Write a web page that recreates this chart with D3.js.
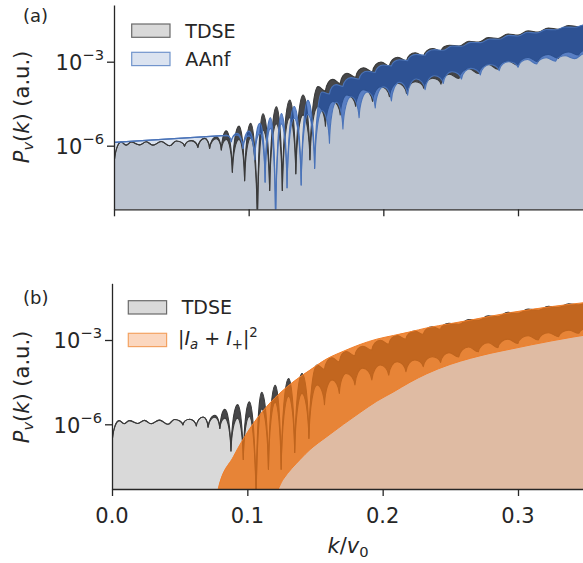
<!DOCTYPE html>
<html>
<head>
<meta charset="utf-8">
<script src="https://cdn.jsdelivr.net/npm/d3@7"></script>
<style>
  html, body { margin: 0; padding: 0; background: #fff; }
  svg { display: block; font-family: "DejaVu Sans", sans-serif; }
</style>
</head>
<body>
<svg id="chart" width="583" height="563"></svg>
<script>
// ---------------------------------------------------------------
// Photoelectron spectra P_v(k), values stored as log10(P).
// Each oscillating spectrum is described by its cusps (minima of
// the slow modulation) and its peaks; "Hi"/"Lo" are the upper and
// lower edges of the band swept by the fast oscillation.
// ---------------------------------------------------------------

const xTicks = [0, 0.1, 0.2, 0.3];
const xTickLabels = ["0.0", "0.1", "0.2", "0.3"];
const yTickExps = [-3, -6];

// TDSE (same spectrum in both panels)
const tdseCuspK  = [0, 0.0090, 0.0190, 0.0289, 0.0413, 0.0524, 0.0623, 0.0710, 0.0797, 0.0879, 0.0970, 0.1065, 0.1156, 0.1250, 0.1350, 0.1455, 0.1570, 0.1680, 0.1795, 0.1920, 0.2045, 0.2172, 0.2300, 0.2428, 0.2562, 0.2707, 0.2852, 0.3000, 0.3150, 0.3300, 0.3450, 0.3600];
const tdseCuspHi = [-6.7, -5.98, -5.97, -5.98, -6.0, -6.02, -6.06, -6.1, -6.15, -6.95, -7.25, -8.8, -7.6, -7.6, -7.0, -6.5, -4.05, -3.78, -3.56, -3.36, -3.15, -2.97, -2.80, -2.62, -2.44, -2.30, -2.17, -2.05, -1.94, -1.84, -1.75, -1.68];
const tdseCuspLo = [-6.7, -5.98, -5.97, -5.98, -6.0, -6.02, -6.06, -6.1, -6.15, -6.95, -7.25, -8.8, -7.6, -7.6, -7.0, -6.5, -5.3, -4.9, -4.6, -4.42, -4.25, -4.13, -3.95, -3.8, -3.6, -3.42, -3.27, -3.12, -3.0, -2.88, -2.76, -2.66];
const tdsePeakK  = [0.0053, 0.0128, 0.0240, 0.0350, 0.0462, 0.0574, 0.0673, 0.0760, 0.0834, 0.0928, 0.1015, 0.1106, 0.1206, 0.1305, 0.1404, 0.1515, 0.1626, 0.1730, 0.1853, 0.1983, 0.2107, 0.2237, 0.2366, 0.2490, 0.2635, 0.2780, 0.2925, 0.3075, 0.3225, 0.3375, 0.3525];
const tdsePeakHi = [-5.87, -5.87, -5.86, -5.85, -5.83, -5.82, -5.74, -5.68, -5.47, -5.30, -5.20, -4.86, -4.61, -4.37, -4.19, -3.89, -3.63, -3.41, -3.22, -3.01, -2.84, -2.68, -2.53, -2.41, -2.27, -2.14, -2.01, -1.90, -1.80, -1.71, -1.64];
const tdsePeakLo = [-5.87, -5.87, -5.86, -5.85, -5.83, -5.82, -5.74, -5.75, -5.78, -5.78, -5.72, -5.45, -5.22, -5.0, -4.9, -4.6, -4.42, -4.19, -4.0, -3.89, -3.77, -3.71, -3.59, -3.45, -3.25, -3.10, -2.97, -2.85, -2.74, -2.65, -2.56];

// AAnf: flat part at low k, then oscillating
const aanfLeadK  = [0];
const aanfLeadV  = [-5.88];
const aanfPeakK  = [0.0835, 0.0912, 0.1002, 0.1084, 0.1162, 0.1243, 0.1338, 0.1440, 0.1545, 0.1650, 0.1760, 0.1880, 0.2000, 0.2120, 0.2245, 0.2380, 0.2510, 0.2650, 0.2790, 0.2930, 0.3070, 0.3210, 0.3350, 0.3490];
const aanfPeakHi = [-5.63, -5.56, -5.48, -5.20, -5.00, -4.85, -4.60, -4.38, -4.08, -3.82, -3.57, -3.34, -3.12, -2.93, -2.74, -2.57, -2.44, -2.31, -2.19, -2.06, -1.95, -1.85, -1.76, -1.69];
const aanfPeakLo = [-5.63, -5.62, -5.65, -5.55, -5.38, -5.22, -5.02, -4.88, -4.75, -4.45, -4.25, -4.08, -3.90, -3.74, -3.62, -3.50, -3.36, -3.24, -3.10, -3.00, -2.92, -2.86, -2.79, -2.72];
const aanfCuspK  = [0.0871, 0.0958, 0.1045, 0.1122, 0.1200, 0.1285, 0.1390, 0.1490, 0.1600, 0.1700, 0.1820, 0.1940, 0.2060, 0.2180, 0.2310, 0.2445, 0.2580, 0.2720, 0.2860, 0.3000, 0.3140, 0.3280, 0.3420, 0.3560];
const aanfCuspHi = [-5.86, -6.10, -6.50, -7.30, -8.80, -7.50, -7.40, -6.81, -4.15, -3.88, -3.62, -3.38, -3.15, -2.96, -2.77, -2.59, -2.45, -2.32, -2.20, -2.08, -1.97, -1.86, -1.77, -1.70];
const aanfCuspLo = [-5.86, -6.10, -6.50, -7.30, -8.80, -7.50, -7.40, -6.81, -5.91, -5.40, -5.00, -4.65, -4.40, -4.20, -4.00, -3.78, -3.62, -3.47, -3.32, -3.20, -3.08, -2.98, -2.89, -2.80];

// |I_a + I_+|^2
const ipK  = [0.0772, 0.0786, 0.0897, 0.1020, 0.1143, 0.1266, 0.1390, 0.1463, 0.1584, 0.1710, 0.1833, 0.1956, 0.2079, 0.2203, 0.2326, 0.2498, 0.2650, 0.2800, 0.2950, 0.3100, 0.3250, 0.3400, 0.3600];
const ipHi = [-9.0, -8.28, -7.15, -6.14, -5.37, -4.78, -4.31, -4.07, -3.68, -3.40, -3.16, -2.97, -2.84, -2.71, -2.57, -2.42, -2.29, -2.15, -2.02, -1.91, -1.81, -1.72, -1.61];
const ipLo = [-9.0, -9.0, -9.0, -9.0, -9.0, -7.95, -7.25, -6.90, -6.45, -6.00, -5.58, -5.18, -4.85, -4.50, -4.20, -3.87, -3.65, -3.47, -3.32, -3.17, -3.03, -2.90, -2.75];

// ---------------------------------------------------------------
const svg = d3.select("#chart");
const W = 583;
const ink = "#262626";

const panels = [
  { tag: "(a)", left: 114, at03: 518, top: 5,     bottom: 209.3, e3: 61.7,  e6: 145.7, tagY: 21.7,  labelY: 107, showX: false },
  { tag: "(b)", left: 112, at03: 518, top: 283.3, bottom: 489,   e3: 340,   e6: 424.3, tagY: 304.4, labelY: 387, showX: true }
];

panels.forEach((p, i) => {
  const kMax = (W - p.left) / (p.at03 - p.left) * 0.3;
  p.x = d3.scaleLinear().domain([0, kMax]).range([p.left, W]);
  const perDec = (p.e6 - p.e3) / 3;
  const lo = -6 - (p.bottom - p.e6) / perDec;
  const hi = -3 + (p.e3 - p.top) / perDec;
  p.y = d3.scaleLog().domain([10 ** lo, 10 ** hi]).range([p.bottom, p.top]);
  p.clipId = "clip" + i;
  svg.append("clipPath").attr("id", p.clipId)
    .append("rect").attr("x", p.left).attr("y", p.top)
    .attr("width", W - p.left).attr("height", p.bottom - p.top);
});

function mergeSeries(leadK, leadV, cuspK, cuspHi, cuspLo, peakK, peakHi, peakLo) {
  const pts = [];
  leadK.forEach((k, i) => pts.push({ k, hi: leadV[i], lo: leadV[i], kind: "lead" }));
  cuspK.forEach((k, i) => pts.push({ k, hi: cuspHi[i], lo: cuspLo[i], kind: "cusp" }));
  peakK.forEach((k, i) => pts.push({ k, hi: peakHi[i], lo: peakLo[i], kind: "peak" }));
  return pts.sort((a, b) => a.k - b.k);
}

// Trace one edge: rounded arches over the peaks, sharp cusps at deep minima,
// gentle waves where the modulation is shallow.
function traceEdge(ctx, pts, key, x, y, start) {
  pts.forEach((q, i) => {
    const qx = x(q.k), qy = y(10 ** q[key]);
    if (i === 0) { start ? ctx.moveTo(qx, qy) : ctx.lineTo(qx, qy); return; }
    const a = pts[i - 1];
    const ax = x(a.k), ay = y(10 ** a[key]);
    const dx = qx - ax, dy = qy - ay;
    if (a.kind === "lead" || q.kind === "lead") ctx.lineTo(qx, qy);
    else if (Math.abs(dy) < 5) ctx.bezierCurveTo(ax + 0.4 * dx, ay, qx - 0.4 * dx, qy, qx, qy);
    else if (a.kind === "cusp") ctx.bezierCurveTo(ax + 0.1 * dx, ay + 0.6 * dy, qx - 0.45 * dx, qy, qx, qy);
    else ctx.bezierCurveTo(ax + 0.45 * dx, ay, qx - 0.1 * dx, qy - 0.6 * dy, qx, qy);
  });
}

function fillPath(pts, p) {
  const c = d3.path();
  traceEdge(c, pts, "hi", p.x, p.y, true);
  c.lineTo(p.x(pts[pts.length - 1].k), p.bottom + 3);
  c.lineTo(p.x(pts[0].k), p.bottom + 3);
  c.closePath();
  return c.toString();
}
function bandPath(pts, p) {
  const c = d3.path();
  traceEdge(c, pts, "hi", p.x, p.y, true);
  traceEdge(c, pts.slice().reverse(), "lo", p.x, p.y, false);
  c.closePath();
  return c.toString();
}
function edgePath(pts, p, key) {
  const c = d3.path();
  traceEdge(c, pts, key, p.x, p.y, true);
  return c.toString();
}

const tdse = mergeSeries([], [], tdseCuspK, tdseCuspHi, tdseCuspLo, tdsePeakK, tdsePeakHi, tdsePeakLo);
const aanf = mergeSeries(aanfLeadK, aanfLeadV, aanfCuspK, aanfCuspHi, aanfCuspLo, aanfPeakK, aanfPeakHi, aanfPeakLo);
const ipData = ipK.map((k, i) => ({ k, hi: ipHi[i], lo: ipLo[i] }));

const style = {
  tdse: { fill: "rgba(64,64,64,0.2)", band: "rgba(50,50,52,0.88)", line: "#3a3a3a" },
  aanf: { fill: "rgba(76,114,176,0.2)", band: "rgba(36,90,189,0.65)", line: "#4a73b8" },
  ip:   { fill: "rgba(240,120,40,0.3)", band: "rgba(234,114,20,0.755)", line: "#ef7f2c" }
};

function drawOscillating(g, pts, p, st, layer) {
  if (layer === "fill") {
    g.append("path").attr("d", fillPath(pts, p)).attr("fill", st.fill);
  } else {
    g.append("path").attr("d", bandPath(pts, p)).attr("fill", st.band);
    ["hi", "lo"].forEach(key => g.append("path").attr("d", edgePath(pts, p, key))
      .attr("fill", "none").attr("stroke", st.line).attr("stroke-width", 1.1).attr("stroke-linejoin", "round"));
  }
}

function drawSmooth(g, data, p, st, layer) {
  const xk = d => p.x(d.k);
  if (layer === "fill") {
    g.append("path").attr("d", d3.area().curve(d3.curveMonotoneX).x(xk)
      .y0(p.bottom + 3).y1(d => p.y(10 ** d.hi))(data)).attr("fill", st.fill);
  } else {
    g.append("path").attr("d", d3.area().curve(d3.curveMonotoneX).x(xk)
      .y0(d => p.y(10 ** d.lo)).y1(d => p.y(10 ** d.hi))(data)).attr("fill", st.band);
    ["hi", "lo"].forEach(key => g.append("path")
      .attr("d", d3.line().curve(d3.curveMonotoneX).x(xk).y(d => p.y(10 ** d[key]))(data))
      .attr("fill", "none").attr("stroke", st.line).attr("stroke-width", 1));
  }
}

// ---- panel (a): TDSE vs AAnf
{
  const p = panels[0];
  const g = svg.append("g").attr("clip-path", `url(#${p.clipId})`);
  drawOscillating(g, tdse, p, style.tdse, "fill");
  drawOscillating(g, aanf, p, style.aanf, "fill");
  drawOscillating(g, tdse, p, style.tdse, "band");
  drawOscillating(g, aanf, p, style.aanf, "band");
}
// ---- panel (b): TDSE vs |I_a + I_+|^2
{
  const p = panels[1];
  const g = svg.append("g").attr("clip-path", `url(#${p.clipId})`);
  drawOscillating(g, tdse, p, style.tdse, "fill");
  drawSmooth(g, ipData, p, style.ip, "fill");
  drawOscillating(g, tdse, p, style.tdse, "band");
  drawSmooth(g, ipData, p, style.ip, "band");
}

// ---- axes, labels, legends
panels.forEach(p => {
  const yAxis = svg.append("g").attr("transform", `translate(${p.left},0)`)
    .call(d3.axisLeft(p.y).tickValues(yTickExps.map(e => 10 ** e)).tickSize(7).tickSizeOuter(0).tickFormat(() => ""));
  const xAxis = svg.append("g").attr("transform", `translate(0,${p.bottom})`)
    .call(d3.axisBottom(p.x).tickValues(xTicks).tickSize(7).tickSizeOuter(0).tickFormat(() => ""));
  [yAxis, xAxis].forEach(a => {
    a.select(".domain").attr("stroke", ink).attr("stroke-width", 1.3);
    a.selectAll(".tick line").attr("stroke", ink).attr("stroke-width", 1.3);
  });

  yTickExps.forEach(e => {
    const t = svg.append("text").attr("x", p.left - 10).attr("y", p.y(10 ** e) + 8.3)
      .attr("text-anchor", "end").attr("fill", ink).attr("font-size", 21);
    t.append("tspan").text("10");
    t.append("tspan").attr("dy", -10).attr("font-size", 14.7).text("\u2212" + Math.abs(e));
  });

  if (p.showX) {
    xTicks.forEach((v, i) => svg.append("text").attr("x", p.x(v)).attr("y", 522.5)
      .attr("text-anchor", "middle").attr("fill", ink).attr("font-size", 21).text(xTickLabels[i]));
  }

  // y label  P_v(k) (a.u.)
  const yl = svg.append("text").attr("transform", `translate(29,${p.labelY}) rotate(-90)`)
    .attr("text-anchor", "middle").attr("fill", ink).attr("font-size", 21);
  yl.append("tspan").attr("font-style", "italic").text("P");
  yl.append("tspan").attr("font-style", "italic").attr("font-size", 14.7).attr("dy", 4).text("v");
  yl.append("tspan").attr("dy", -4).text("(");
  yl.append("tspan").attr("font-style", "italic").text("k");
  yl.append("tspan").text(") (a.u.)");

  svg.append("text").attr("x", 23).attr("y", p.tagY).attr("fill", ink)
    .attr("font-size", 18).text(p.tag);
});

// x label  k/v_0
{
  const xl = svg.append("text").attr("x", 348).attr("y", 553.3).attr("text-anchor", "middle")
    .attr("fill", ink).attr("font-size", 21);
  xl.append("tspan").attr("font-style", "italic").text("k");
  xl.append("tspan").text("/");
  xl.append("tspan").attr("font-style", "italic").text("v");
  xl.append("tspan").attr("font-size", 14.7).attr("dy", 4).text("0");
}

// legends
function legendPatch(x, y, fill, edge) {
  svg.append("rect").attr("x", x).attr("y", y).attr("width", 38.3).attr("height", 13.3)
    .attr("fill", fill).attr("stroke", edge).attr("stroke-width", 1.2);
}
legendPatch(131.7, 24, "#d9d9d9", "#6a6a6a");
svg.append("text").attr("x", 185.3).attr("y", 37.7).attr("fill", ink).attr("font-size", 19).text("TDSE");
legendPatch(131.7, 52.3, "#dbe3f0", "#7194cc");
svg.append("text").attr("x", 185.3).attr("y", 65.7).attr("fill", ink).attr("font-size", 19).text("AAnf");

legendPatch(128.3, 300.7, "#d9d9d9", "#6a6a6a");
svg.append("text").attr("x", 181.7).attr("y", 314.3).attr("fill", ink).attr("font-size", 19).text("TDSE");
legendPatch(128.3, 333.3, "#fbd7bf", "#f3a262");
{
  const t = svg.append("text").attr("x", 178).attr("y", 344.5).attr("fill", ink).attr("font-size", 19);
  t.append("tspan").text("|");
  t.append("tspan").attr("font-style", "italic").text("I");
  t.append("tspan").attr("font-style", "italic").attr("font-size", 13.3).attr("dy", 4).text("a");
  t.append("tspan").attr("dy", -4).text(" + ");
  t.append("tspan").attr("font-style", "italic").text("I");
  t.append("tspan").attr("font-size", 13.3).attr("dy", 4).text("+");
  t.append("tspan").attr("dy", -4).text("|");
  t.append("tspan").attr("font-size", 13.3).attr("dy", -8).text("2");
}
</script>
</body>
</html>
